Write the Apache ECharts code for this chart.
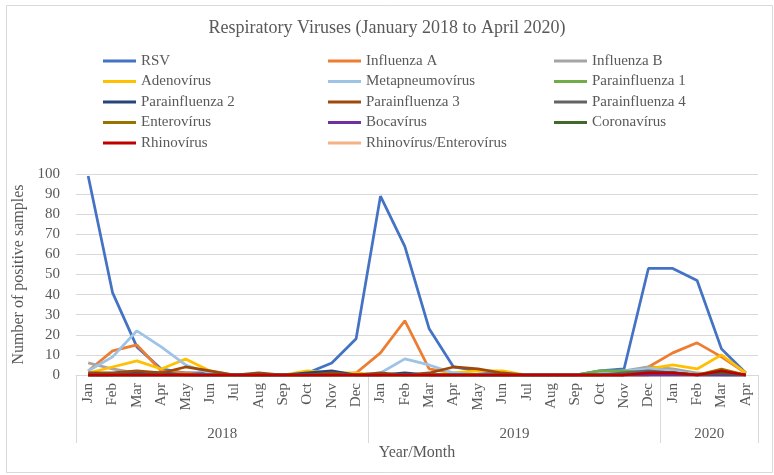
<!DOCTYPE html>
<html>
<head>
<meta charset="utf-8">
<script src="https://cdn.jsdelivr.net/npm/echarts@6/dist/echarts.min.js"></script>
<style>
  html, body { margin: 0; padding: 0; background: #ffffff; }
  #chart { width: 774px; height: 475px; }
</style>
</head>
<body>
<div id="chart"></div>
<script>
// ---- data ----
const months = ['Jan','Feb','Mar','Apr','May','Jun','Jul','Aug','Sep','Oct','Nov','Dec',
                'Jan','Feb','Mar','Apr','May','Jun','Jul','Aug','Sep','Oct','Nov','Dec',
                'Jan','Feb','Mar','Apr'];
const years = ['2018', '2019', '2020'];
const monthsPerYear = [12, 12, 4];
const yTicks = { min: 0, max: 100, interval: 10 };

const seriesNames = ['RSV','Influenza A','Influenza B','Adenovírus','Metapneumovírus','Parainfluenza 1',
  'Parainfluenza 2','Parainfluenza 3','Parainfluenza 4','Enterovírus','Bocavírus','Coronavírus',
  'Rhinovírus','Rhinovírus/Enterovírus'];

const rsv          = [99,41,14,3,1,1,0,0,0,1,6,18, 89,64,23,4,2,1,0,0,0,2,3,53, 53,47,13,1];
const influenzaA   = [2,12,15,2,1,0,0,0,0,0,0,1, 11,27,3,1,0,0,0,0,0,0,1,4, 11,16,9,1];
const influenzaB   = [6,3,1,0,0,0,0,0,0,0,0,0, 0,0,0,0,0,0,0,0,0,1,2,4, 3,1,0,0];
const adenovirus   = [1,4,7,3,8,2,0,0,0,2,1,1, 0,0,0,1,2,2,0,0,0,0,1,3, 5,3,10,1];
const metapneumo   = [2,9,22,14,5,1,0,0,0,0,0,0, 1,8,5,1,0,0,0,0,0,1,2,3, 2,0,0,0];
const parainfl1    = [0,0,0,0,0,0,0,0,0,0,0,0, 0,0,0,0,0,0,0,0,0,2,2,1, 1,0,1,0];
const parainfl2    = [0,0,1,1,0,0,0,0,0,1,2,0, 0,1,0,0,0,0,0,0,0,0,0,0, 0,0,0,0];
const parainfl3    = [1,1,2,1,4,2,0,1,0,0,1,0, 1,0,1,4,3,1,0,0,0,0,0,1, 1,0,2,0];
const parainfl4    = [0,0,0,0,0,0,0,0,0,0,0,0, 0,0,0,0,0,0,0,0,0,0,1,2, 1,0,1,0];
const enterovirus  = [0,0,0,0,0,0,0,0,0,0,0,0, 0,0,0,0,0,0,0,0,0,0,0,0, 1,0,3,0];
const bocavirus    = [0,0,0,0,0,0,0,0,0,0,0,0, 0,0,0,0,0,0,0,0,0,0,0,0, 0,0,0,0];
const coronavirus  = [0,0,0,0,0,0,0,0,0,0,0,0, 0,0,0,0,0,0,0,0,0,0,0,1, 1,0,1,0];
const rhinovirus   = [0,0,0,0,0,0,0,0,0,0,0,0, 0,0,0,0,0,0,0,0,0,0,0,1, 1,0,2,0];
const rhinoEntero  = [0,0,0,0,0,0,0,0,0,0,0,0, 0,0,0,0,0,0,0,0,0,0,0,0, 0,0,0,0];

const seriesData = [rsv, influenzaA, influenzaB, adenovirus, metapneumo, parainfl1, parainfl2,
  parainfl3, parainfl4, enterovirus, bocavirus, coronavirus, rhinovirus, rhinoEntero];

// ---- styles ----
const colors = ['#4472C4','#ED7D31','#A5A5A5','#FFC000','#9DC3E6','#70AD47','#264478',
  '#9E480E','#636363','#997300','#7030A0','#43682B','#C00000','#F4B183'];
const FONT = 'Liberation Serif';
const TXT = '#595959';
const GRID = '#d9d9d9';

// year group boundaries / centers on a continuous index scale
const boundaries = [-0.5];
const centers = [];
monthsPerYear.forEach((n) => {
  const start = boundaries[boundaries.length - 1];
  centers.push(start + n / 2);
  boundaries.push(start + n);
});

const legendCols = [[], [], []];
seriesNames.forEach((n, i) => legendCols[i % 3].push(n));
const legendLefts = [98, 323, 549];

const chart = echarts.init(document.getElementById('chart'), null, { renderer: 'canvas' });
chart.setOption({
  animation: false,
  color: colors,
  textStyle: { fontFamily: FONT },
  title: {
    text: 'Respiratory Viruses (January 2018 to April 2020)',
    left: 'center', top: 14,
    textStyle: { fontFamily: FONT, fontSize: 18, fontWeight: 'normal', color: TXT }
  },
  graphic: [{
    type: 'rect', left: 4, top: 3, silent: true,
    shape: { width: 766, height: 467 },
    style: { fill: 'none', stroke: GRID, lineWidth: 1 }
  }],
  legend: legendCols.map((col, k) => ({
    orient: 'vertical',
    left: legendLefts[k], top: 48,
    data: col,
    icon: 'rect', itemWidth: 33, itemHeight: 3, itemGap: 4.5,
    textStyle: { fontFamily: FONT, fontSize: 15, color: TXT, lineHeight: 16 }
  })),
  grid: { left: 76, right: 16, top: 174, bottom: 100, containLabel: false },
  xAxis: [{
    type: 'category',
    data: months,
    boundaryGap: true,
    axisLine: { show: true, lineStyle: { color: GRID, width: 1 } },
    axisTick: { show: false },
    axisLabel: { interval: 0, rotate: 90, margin: 8, fontFamily: FONT, fontSize: 15, color: TXT }
  }, {
    type: 'value',
    position: 'bottom',
    min: boundaries[0], max: boundaries[boundaries.length - 1],
    axisLine: { show: false },
    splitLine: { show: false },
    axisTick: { show: true, customValues: boundaries, length: 68, lineStyle: { color: GRID, width: 1 } },
    axisLabel: {
      customValues: centers, margin: 52, fontFamily: FONT, fontSize: 15, color: TXT,
      formatter: (v) => years[centers.indexOf(v)]
    },
    name: 'Year/Month', nameLocation: 'middle', nameGap: 70,
    nameTextStyle: { fontFamily: FONT, fontSize: 16, color: TXT }
  }],
  yAxis: {
    type: 'value',
    min: yTicks.min, max: yTicks.max, interval: yTicks.interval,
    axisLine: { show: false },
    axisTick: { show: false },
    splitLine: { lineStyle: { color: GRID, width: 1 } },
    axisLabel: { margin: 16, fontFamily: FONT, fontSize: 15, color: TXT },
    name: 'Number of positive samples', nameLocation: 'middle', nameGap: 49,
    nameTextStyle: { fontFamily: FONT, fontSize: 16, color: TXT }
  },
  series: seriesNames.map((name, i) => ({
    name, type: 'line', data: seriesData[i],
    xAxisIndex: 0,
    showSymbol: false, symbol: 'none',
    z: name === 'Rhinovírus/Enterovírus' ? 1 : 2,
    lineStyle: { width: 2.75, color: colors[i] },
    itemStyle: { color: colors[i] }
  }))
});
</script>
</body>
</html>
